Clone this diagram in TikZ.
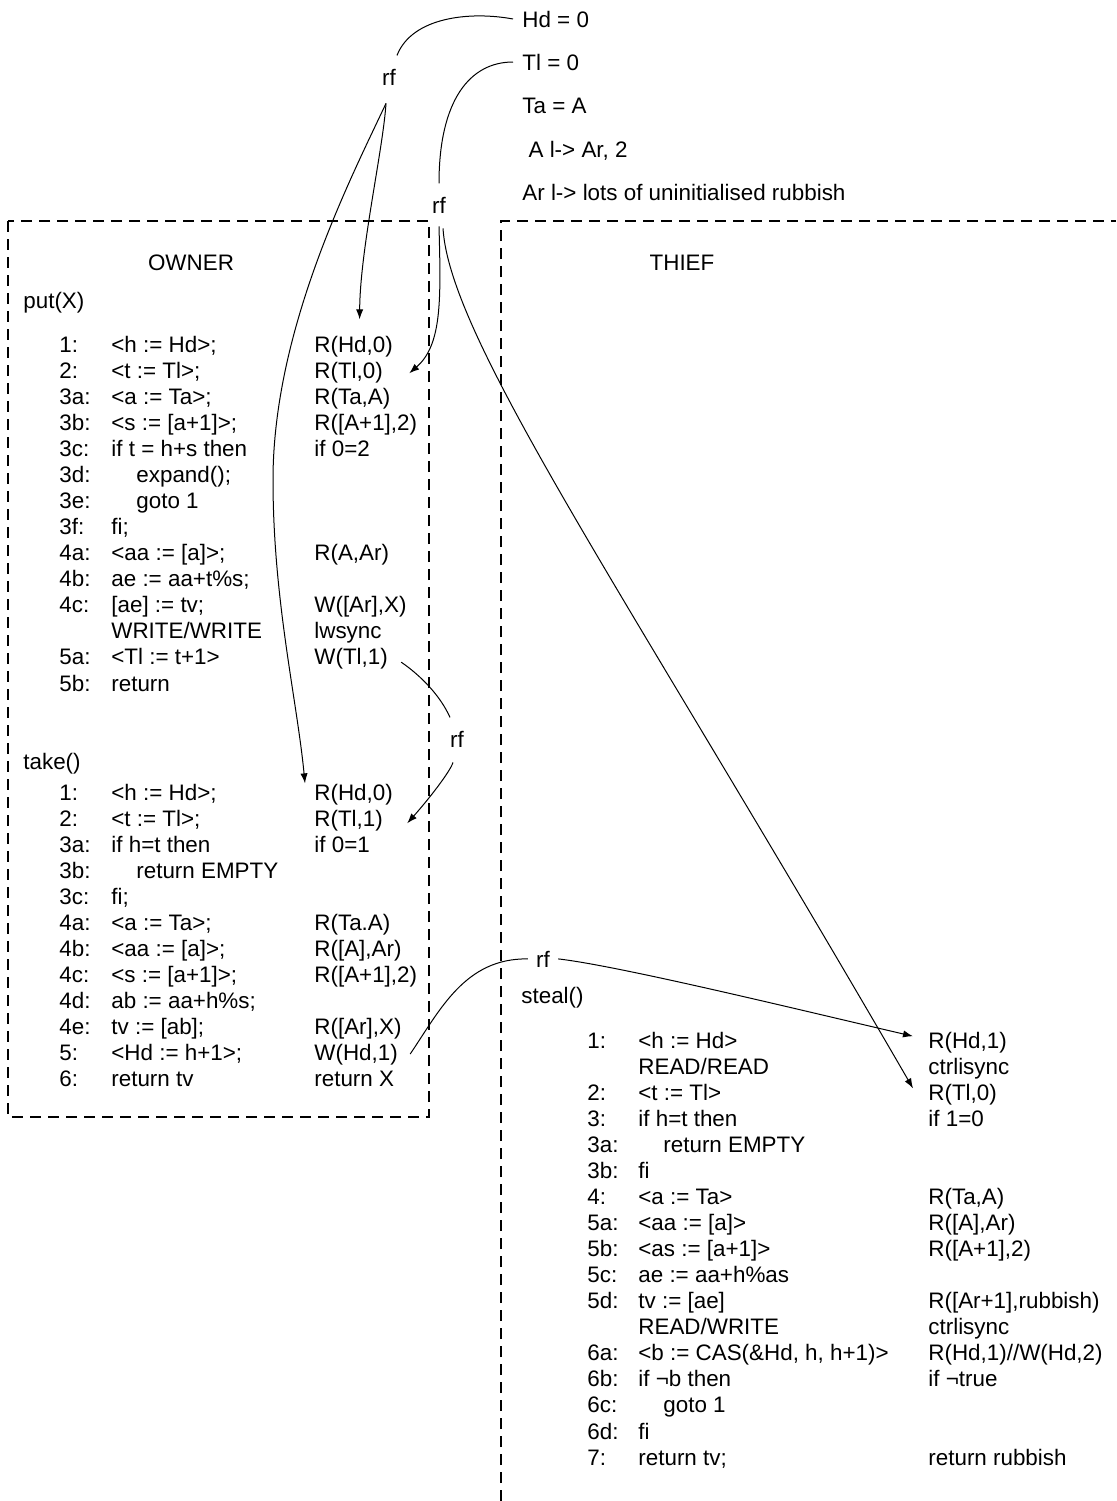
\documentclass[tikz,border=0pt]{standalone}
\usepackage{fontspec}
\setmainfont{Liberation Sans}
\usepackage{tikz}
\usetikzlibrary{calc,arrows.meta}
\tikzset{
  txt/.style={anchor=base west, inner sep=0pt},
  init/.style={anchor=base west, inner xsep=4.5pt, inner ysep=0pt},
  rflabel/.style={anchor=base, inner xsep=4pt, inner ysep=6.5pt},
  threadbox/.style={line width=0.9pt, dash pattern=on 5.5pt off 3.5pt},
  rfline/.style={line width=0.5pt},
  rfarrow/.style={line width=0.5pt, -{Latex[length=5pt,width=3.6pt]}},
}
\newcommand{\indt}{\hspace*{12.5pt}}

\begin{document}
\begin{tikzpicture}[x=0.5pt, y=-0.5pt, font=\fontsize{11.2pt}{13pt}\selectfont]
    \useasboundingbox (0,0) rectangle (1116,1501);
    % thread boxes
    \draw[threadbox] (8,221) rectangle (429,1117);
    \draw[threadbox] (501,1501) -- (501,221) -- (1116,221);
    % initial state
    \node[init] (hd) at (513,27) {Hd = 0};
    \node[init] (tl) at (513,70) {Tl = 0};
    \node[init] (ta) at (513,113) {Ta = A};
    \node[init] (arrA) at (513,157) {\ A l-> Ar, 2};
    \node[init] (arrAr) at (513,200) {Ar l-> lots of uninitialised rubbish};
    \node[rflabel] (rf1) at (389,85) {rf};
    \node[rflabel] (rf2) at (439,213) {rf};
    \node[rflabel] (rf3) at (457,747) {rf};
    \node[rflabel] (rf4) at (543,967) {rf};
    \node[anchor=base, inner sep=0pt] (owner) at (191,270) {OWNER};
    \node[anchor=base, inner sep=0pt] (thief) at (682,270) {THIEF};
    \node[txt] (put) at (23,308) {put(X)};
    \node[txt] (take) at (23,769) {take()};
    \node[txt] (steal) at (521,1003) {steal()};
    % put(X)
    \foreach \lbl/\stm/\evt [count=\i from 0] in {
        {1:}/{<h := Hd>;}/{R(Hd,0)},
        {2:}/{<t := Tl>;}/{R(Tl,0)},
        {3a:}/{<a := Ta>;}/{R(Ta,A)},
        {3b:}/{<s := [a+1]>;}/{R([A+1],2)},
        {3c:}/{if t = h+s then}/{if 0=2},
        {3d:}/{\indt expand();}/{},
        {3e:}/{\indt goto 1}/{},
        {3f:}/{fi;}/{},
        {4a:}/{<aa := [a]>;}/{R(A,Ar)},
        {4b:}/{ae := aa+t\%s;}/{},
        {4c:}/{[ae] := tv;}/{W([Ar],X)},
        {}/{WRITE/WRITE}/{lwsync},
        {5a:}/{<Tl := t+1>}/{W(Tl,1)},
        {5b:}/{return}/{}
    }{
        \node[txt] (p\i-l) at (59,{352+26.08*\i}) {\lbl};
        \node[txt] (p\i-c) at (111,{352+26.08*\i}) {\stm};
        \node[txt] (p\i-e) at (314,{352+26.08*\i}) {\evt};
    }
    % take()
    \foreach \lbl/\stm/\evt [count=\i from 0] in {
        {1:}/{<h := Hd>;}/{R(Hd,0)},
        {2:}/{<t := Tl>;}/{R(Tl,1)},
        {3a:}/{if h=t then}/{if 0=1},
        {3b:}/{\indt return EMPTY}/{},
        {3c:}/{fi;}/{},
        {4a:}/{<a := Ta>;}/{R(Ta.A)},
        {4b:}/{<aa := [a]>;}/{R([A],Ar)},
        {4c:}/{<s := [a+1]>;}/{R([A+1],2)},
        {4d:}/{ab := aa+h\%s;}/{},
        {4e:}/{tv := [ab];}/{R([Ar],X)},
        {5:}/{<Hd := h+1>;}/{W(Hd,1)},
        {6:}/{return tv}/{return X}
    }{
        \node[txt] (t\i-l) at (59,{800+26.08*\i}) {\lbl};
        \node[txt] (t\i-c) at (111,{800+26.08*\i}) {\stm};
        \node[txt] (t\i-e) at (314,{800+26.08*\i}) {\evt};
    }
    % steal()
    \foreach \lbl/\stm/\evt [count=\i from 0] in {
        {1:}/{<h := Hd>}/{R(Hd,1)},
        {}/{READ/READ}/{ctrlisync},
        {2:}/{<t := Tl>}/{R(Tl,0)},
        {3:}/{if h=t then}/{if 1=0},
        {3a:}/{\indt return EMPTY}/{},
        {3b:}/{fi}/{},
        {4:}/{<a := Ta>}/{R(Ta,A)},
        {5a:}/{<aa := [a]>}/{R([A],Ar)},
        {5b:}/{<as := [a+1]>}/{R([A+1],2)},
        {5c:}/{ae := aa+h\%as}/{},
        {5d:}/{tv := [ae]}/{R([Ar+1],rubbish)},
        {}/{READ/WRITE}/{ctrlisync},
        {6a:}/{<b := CAS(\&Hd, h, h+1)>}/{R(Hd,1)//W(Hd,2)},
        {6b:}/{if ¬b then}/{if ¬true},
        {6c:}/{\indt goto 1}/{},
        {6d:}/{fi}/{},
        {7:}/{return tv;}/{return rubbish}
    }{
        \node[txt] (s\i-l) at (587,{1048+26.07*\i}) {\lbl};
        \node[txt] (s\i-c) at (638,{1048+26.07*\i}) {\stm};
        \node[txt] (s\i-e) at (928,{1048+26.07*\i}) {\evt};
    }
    % reads-from edges
    \coordinate (bulge) at (273,480);
    \draw[rfline] (hd.west) .. controls (470,11) and (412,17) .. ($(rf1.north)+(8,0)$);
    \draw[rfline] (tl.west) .. controls (470,62) and (439,100) .. (rf2.north);
    \draw[rfarrow] ($(rf1.south)+(-3,5)$) .. controls (383,150) and (360,250) .. ($(p0-e.north)+(6,-16)$);
    \draw[rfarrow] ($(rf1.south)+(-3,5)$) .. controls (350,180) and (273,330) .. (bulge)
        .. controls (273,600) and (297,700) .. ($(t0-e.north west)+(-9,0)$);
    \draw[rfarrow] (rf2.south) .. controls (441,300) and (442,345) .. ($(p1-e.east)+(26,1)$);
    \draw[rfarrow] ($(rf2.south)+(4,2)$) .. controls (450,340) and (623,588) .. ($(s2-e.west)+(-15,-6)$);
    \draw[rfline] ($(p12-e.east)+(13,3)$) .. controls (420,675) and (440,695) .. ($(rf3.north)+(-7,0)$);
    \draw[rfarrow] ($(rf3.south)+(-4,2)$) .. controls (450,772) and (428,800) .. ($(t1-e.east)+(24,3)$);
    \draw[rfline] ($(t10-e.east)+(12,-1)$) .. controls (440,1010) and (465,958) .. (rf4.west);
    \draw[rfarrow] (rf4.east) .. controls (620,966) and (800,1010) .. ($(s0-e.west)+(-15,-6)$);
\end{tikzpicture}
\end{document}
